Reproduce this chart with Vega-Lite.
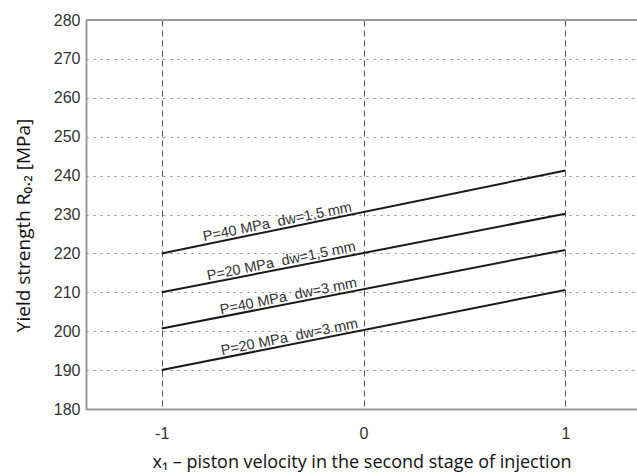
{
  "$schema": "https://vega.github.io/schema/vega-lite/v6.json",
  "width": 551,
  "height": 389,
  "autosize": "none",
  "padding": {"left": 86, "top": 20, "right": 0, "bottom": 63},
  "background": "white",
  "config": {"view": {"stroke": null}},
  "datasets": {
    "lines": [
      {"series": "P40_d1.5", "x": -1, "y": 220},
      {"series": "P40_d1.5", "x": 1, "y": 241.3},
      {"series": "P20_d1.5", "x": -1, "y": 210},
      {"series": "P20_d1.5", "x": 1, "y": 230.2},
      {"series": "P40_d3", "x": -1, "y": 200.7},
      {"series": "P40_d3", "x": 1, "y": 220.9},
      {"series": "P20_d3", "x": -1, "y": 190},
      {"series": "P20_d3", "x": 1, "y": 210.6}
    ],
    "labels": [
      {"label": "P=40 MPa\u00a0 dw=1,5 mm", "x": -0.42, "y": 226.2},
      {"label": "P=20 MPa\u00a0 dw=1,5 mm", "x": -0.40, "y": 216.1},
      {"label": "P=40 MPa\u00a0 dw=3 mm", "x": -0.365, "y": 207.1},
      {"label": "P=20 MPa\u00a0 dw=3 mm", "x": -0.36, "y": 196.6}
    ],
    "frame": [
      {"x": -1.375, "x2": 1.355, "y": 280}
    ]
  },
  "encoding": {
    "x": {
      "field": "x", "type": "quantitative",
      "scale": {"domain": [-1.375, 1.355], "nice": false, "zero": false},
      "axis": {
        "values": [-1, 0, 1],
        "labelExpr": "'' + datum.value",
        "labelOverlap": false,
        "grid": true, "gridColor": "#555", "gridDash": [6, 4], "gridWidth": 1,
        "ticks": false,
        "domainColor": "#999", "domainWidth": 2,
        "labelFont": "Liberation Sans", "labelFontSize": 16, "labelColor": "#333", "labelPadding": 16,
        "title": "x₁ – piston velocity in the second stage of injection",
        "titleFont": "Open Sans", "titleFontSize": 18, "titleFontWeight": "normal", "titleColor": "#111",
        "titleY": 58, "titleBaseline": "alphabetic"
      }
    },
    "y": {
      "field": "y", "type": "quantitative",
      "scale": {"domain": [180, 280], "nice": false, "zero": false},
      "axis": {
        "values": [180, 190, 200, 210, 220, 230, 240, 250, 260, 270, 280],
        "labelOverlap": false,
        "grid": true, "gridColor": "#8a8a8a", "gridDash": [2, 5], "gridWidth": 1.2,
        "ticks": false,
        "domainColor": "#999", "domainWidth": 2,
        "labelFont": "Liberation Sans", "labelFontSize": 16, "labelColor": "#333", "labelPadding": 6,
        "title": "Yield strength R₀.₂ [MPa]",
        "titleFont": "Open Sans", "titleFontSize": 19, "titleFontWeight": "normal", "titleColor": "#111",
        "titleX": -57, "titleY": 205, "titleAngle": -90, "titleBaseline": "alphabetic", "titleAlign": "center"
      }
    }
  },
  "layer": [
    {
      "data": {"name": "lines"},
      "mark": {"type": "line", "color": "#1a1a1a", "strokeWidth": 2},
      "encoding": {"detail": {"field": "series"}}
    },
    {
      "data": {"name": "labels"},
      "mark": {"type": "text", "angle": -11.4, "baseline": "bottom", "align": "center", "dy": 0, "fontSize": 14.5, "font": "Liberation Sans", "color": "#333"},
      "encoding": {"text": {"field": "label"}}
    },
    {
      "data": {"name": "frame"},
      "mark": {"type": "rule", "color": "#999", "strokeWidth": 2},
      "encoding": {"x2": {"field": "x2"}}
    }
  ]
}
